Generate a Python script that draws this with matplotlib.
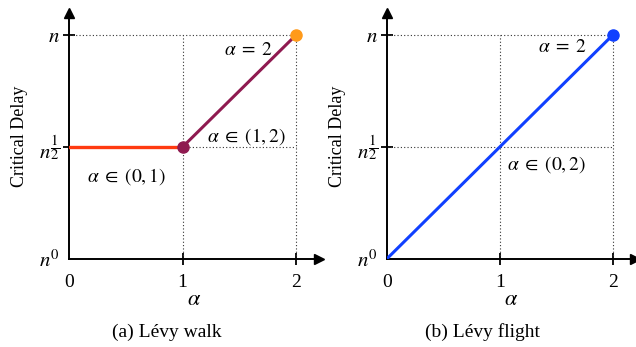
import matplotlib
matplotlib.use("Agg")
import matplotlib.pyplot as plt

plt.rcParams['font.family'] = ['Liberation Serif', 'DejaVu Serif']
plt.rcParams['mathtext.fontset'] = 'stix'

# data (alpha -> exponent of n)
walk_low_x = [0, 1]
walk_low_y = [0.5, 0.5]
walk_high_x = [1, 2]
walk_high_y = [0.5, 1]
flight_x = [0, 2]
flight_y = [0, 1]
xticks = [1, 2]
yticks = [0, 0.5, 1]
ytick_labels = [r'$n^0$', r'$n^{\dfrac{1}{2}}$', r'$n$']

red = '#ff3a10'
purple = '#8f1a50'
orange = '#ff9a1a'
blue = '#1040ff'

fig = plt.figure(figsize=(6.36, 3.47), dpi=100)
ax1 = fig.add_axes([0.1085, 0.2536, 0.3926, 0.710])
ax2 = fig.add_axes([0.608, 0.2536, 0.391, 0.710])


def setup(ax):
    ax.set_xlim(0, 2.2)
    ax.set_ylim(0, 1.1)
    for s in ['top', 'right']:
        ax.spines[s].set_visible(False)
    for s in ['left', 'bottom']:
        ax.spines[s].set_linewidth(1.4)
    ax.plot(1, 0, '>k', ms=7, transform=ax.get_yaxis_transform(), clip_on=False)
    ax.plot(0, 1, '^k', ms=7, transform=ax.get_xaxis_transform(), clip_on=False)
    # dotted guides
    for x in xticks:
        ax.plot([x, x], [0, 1], ls=(0, (1, 2)), color='#333333', lw=0.8)
    for y in [0.5, 1]:
        ax.plot([0, 2], [y, y], ls=(0, (1, 2)), color='#333333', lw=0.8)
    ax.set_xticks([0] + xticks)
    ax.set_xticklabels(['0', '1', '2'], fontsize=14)
    ax.set_yticks(yticks)
    ax.set_yticklabels(ytick_labels, fontsize=15)
    ax.tick_params(axis='both', direction='inout', length=9, width=1.3)
    ax.xaxis.get_major_ticks()[0].tick1line.set_visible(False)
    ax.yaxis.get_major_ticks()[0].tick1line.set_visible(False)
    ax.tick_params(axis='x', pad=6)
    ax.tick_params(axis='y', pad=2)
    ax.set_xlabel(r'$\alpha$', fontsize=16, labelpad=0)
    ax.set_ylabel('Critical Delay', fontsize=13, labelpad=8)


setup(ax1)
setup(ax2)

ax1.plot(walk_low_x, walk_low_y, color=red, lw=2.4, zorder=3)
ax1.plot(walk_high_x, walk_high_y, color=purple, lw=2.2, zorder=3)
ax1.plot(walk_high_x[0], walk_high_y[0], 'o', color=purple, ms=8, zorder=4)
ax1.plot(walk_high_x[1], walk_high_y[1], 'o', color=orange, ms=8, zorder=4, clip_on=False)
ax1.text(1.80, 0.933, r'$\alpha\;=\;2$', fontsize=14, ha='right', va='center')
ax1.text(1.22, 0.545, r'$\alpha\;\in\;(1,2)$', fontsize=14, ha='left', va='center')
ax1.text(0.16, 0.366, r'$\alpha\;\in\;(0,1)$', fontsize=14, ha='left', va='center')

ax2.plot(flight_x, flight_y, color=blue, lw=2.2, zorder=3)
ax2.plot(flight_x[1], flight_y[1], 'o', color=blue, ms=8, zorder=4, clip_on=False)
ax2.text(1.77, 0.943, r'$\alpha\;=\;2$', fontsize=14, ha='right', va='center')
ax2.text(1.065, 0.42, r'$\alpha\;\in\;(0,2)$', fontsize=14, ha='left', va='center')

fig.text(167 / 636, 1 - 332 / 347, '(a) Lévy walk', fontsize=14, ha='center', va='center')
fig.text(482 / 636, 1 - 332 / 347, '(b) Lévy flight', fontsize=14, ha='center', va='center')

fig.savefig('out.png', dpi=100)
